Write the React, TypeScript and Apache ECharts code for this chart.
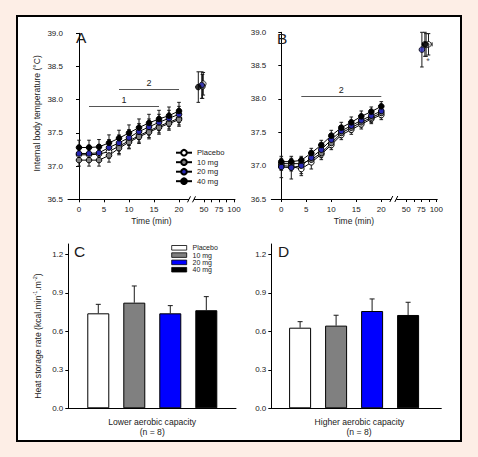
import React, { useEffect, useRef } from "react";
import * as echarts from "echarts";

const FONT = '"Liberation Sans", Arial, Helvetica, sans-serif';

const doses = ["Placebo", "10 mg", "20 mg", "40 mg"];
const markerFill = ["#ffffff", "#7f7f7f", "#2828b4", "#000000"];
const barFill = ["#ffffff", "#808080", "#0000ff", "#000000"];

const minutes = [0, 2, 4, 6, 8, 10, 12, 14, 16, 18, 20];
const timeTicks = [0, 5, 10, 15, 20, 50, 75, 100];
const timeMinorTicks = [62.5, 87.5];
const tempTicks = [36.5, 37.0, 37.5, 38.0, 38.5, 39.0];

// Panel A: lower aerobic capacity, internal temperature (°C)
const aPlacebo = [37.17, 37.17, 37.18, 37.22, 37.3, 37.38, 37.46, 37.53, 37.6, 37.66, 37.72];
const a10mg = [37.09, 37.09, 37.09, 37.16, 37.27, 37.36, 37.44, 37.51, 37.58, 37.64, 37.7];
const a20mg = [37.19, 37.19, 37.2, 37.28, 37.35, 37.43, 37.52, 37.59, 37.66, 37.72, 37.78];
const a40mg = [37.28, 37.28, 37.29, 37.35, 37.42, 37.5, 37.58, 37.65, 37.71, 37.76, 37.83];
const aPlaceboSD = [0.1, 0.1, 0.1, 0.1, 0.11, 0.11, 0.1, 0.1, 0.1, 0.1, 0.1];
const a10mgSD = [0.09, 0.09, 0.09, 0.1, 0.1, 0.1, 0.1, 0.1, 0.1, 0.1, 0.1];
const a20mgSD = [0.12, 0.12, 0.12, 0.12, 0.12, 0.12, 0.12, 0.12, 0.12, 0.12, 0.12];
const a40mgSD = [0.11, 0.11, 0.11, 0.12, 0.12, 0.12, 0.13, 0.13, 0.13, 0.13, 0.13];
const aEndTime = [48.8, 47.5, 46.2, 40.5];
const aEndTemp = [38.24, 38.2, 38.22, 38.19];
const aEndSD = [0.17, 0.18, 0.2, 0.23];
const aEndTimeSD = [2, 0, 0, 0];

// Panel B: higher aerobic capacity
const bPlacebo = [37.0, 36.99, 36.95, 37.05, 37.17, 37.31, 37.46, 37.54, 37.62, 37.7, 37.76];
const b10mg = [37.03, 37.03, 37.03, 37.09, 37.19, 37.34, 37.49, 37.57, 37.65, 37.72, 37.79];
const b20mg = [36.98, 36.97, 37.0, 37.12, 37.24, 37.39, 37.52, 37.6, 37.68, 37.75, 37.82];
const b40mg = [37.06, 37.06, 37.08, 37.19, 37.31, 37.45, 37.57, 37.65, 37.74, 37.81, 37.89];
const bPlaceboSD = [0.07, 0.07, 0.1, 0.1, 0.08, 0.07, 0.07, 0.07, 0.07, 0.07, 0.07];
const b10mgSD = [0.06, 0.06, 0.06, 0.07, 0.07, 0.07, 0.07, 0.07, 0.07, 0.07, 0.07];
const b20mgSD = [0.16, 0.17, 0.12, 0.09, 0.08, 0.08, 0.08, 0.08, 0.08, 0.08, 0.08];
const b40mgSD = [0.05, 0.05, 0.06, 0.07, 0.07, 0.08, 0.08, 0.08, 0.08, 0.07, 0.07];
const bEndTime = [87, 83, 76, 81];
const bEndTemp = [38.82, 38.81, 38.74, 38.82];
const bEndSD = [0.16, 0.17, 0.26, 0.18];
const bEndTimeSD = [6, 3, 0, 4];
const bStars = [
  [83, 39.05],
  [86, 38.57],
];

const aSig = [
  { label: "1", from: 2, to: 16, level: 37.9 },
  { label: "2", from: 8, to: 20, level: 38.16 },
];
const bSig = [{ label: "2", from: 4, to: 20, level: 38.04 }];

// Panels C & D: heat storage rate
const heatTicks = [0, 0.3, 0.6, 0.9, 1.2];
const cHeat = [0.74, 0.823, 0.74, 0.764];
const cHeatSD = [0.07, 0.13, 0.06, 0.106];
const dHeat = [0.628, 0.644, 0.758, 0.727];
const dHeatSD = [0.047, 0.081, 0.094, 0.099];

// time axis with a break between 20 and 50 min
const toAxis = (t: number) => (t <= 20 ? t : 25 + (t - 50) * 0.12);
const fromAxis = (v: number) => (v <= 20 ? Math.round(v) : Math.round(50 + (v - 25) / 0.12));
const BREAK_POS = 22.5;

const errRender = (capW: number, upOnly: boolean) => (params: any, api: any) => {
  const x = api.value(0);
  const lo = api.value(1);
  const hi = api.value(2);
  const a = api.coord([x, lo]);
  const b = api.coord([x, hi]);
  const st = { stroke: "#1a1a1a", lineWidth: 1 };
  const children: any[] = [
    { type: "line", shape: { x1: a[0], y1: a[1], x2: b[0], y2: b[1] }, style: st },
    { type: "line", shape: { x1: b[0] - capW, y1: b[1], x2: b[0] + capW, y2: b[1] }, style: st },
  ];
  if (!upOnly) {
    children.push({ type: "line", shape: { x1: a[0] - capW, y1: a[1], x2: a[0] + capW, y2: a[1] }, style: st });
  }
  return { type: "group", children };
};

const hErrRender = (params: any, api: any) => {
  const x1 = api.value(0);
  const x2 = api.value(1);
  const y = api.value(2);
  const a = api.coord([x1, y]);
  const b = api.coord([x2, y]);
  const st = { stroke: "#1a1a1a", lineWidth: 1 };
  return {
    type: "group",
    children: [
      { type: "line", shape: { x1: a[0], y1: a[1], x2: b[0], y2: b[1] }, style: st },
      { type: "line", shape: { x1: a[0], y1: a[1] - 2, x2: a[0], y2: a[1] + 2 }, style: st },
      { type: "line", shape: { x1: b[0], y1: b[1] - 2, x2: b[0], y2: b[1] + 2 }, style: st },
    ],
  };
};

const breakRender = (params: any, api: any) => {
  const p = api.coord([api.value(0), api.value(1)]);
  const st = { stroke: "#000", lineWidth: 1 };
  return {
    type: "group",
    children: [
      { type: "rect", shape: { x: p[0] - 2.5, y: p[1] - 1.5, width: 5, height: 3 }, style: { fill: "#fff" } },
      { type: "line", shape: { x1: p[0] - 4, y1: p[1] + 3, x2: p[0] - 1, y2: p[1] - 3 }, style: st },
      { type: "line", shape: { x1: p[0] + 1, y1: p[1] + 3, x2: p[0] + 4, y2: p[1] - 3 }, style: st },
    ],
  };
};

const axisLineStyle = { lineStyle: { color: "#000", width: 1 } };
const labelStyle = { fontSize: 8, color: "#222", fontFamily: FONT };
const SYMBOL = 5.6;

function tempPanelSeries(
  gi: number,
  means: number[][],
  sds: number[][],
  endT: number[],
  endV: number[],
  endSD: number[],
  endTSD: number[],
  sig: { label: string; from: number; to: number; level: number }[],
  suffix: string
) {
  const out: any[] = [];
  doses.forEach((d, i) => {
    const m = means[i];
    const s = sds[i];
    const errData = minutes.map((t, k) => [t, m[k] - s[k], m[k] + s[k]]);
    errData.push([toAxis(endT[i]), endV[i] - endSD[i], endV[i] + endSD[i]]);
    out.push({
      type: "custom",
      name: d + " SD" + suffix,
      xAxisIndex: gi,
      yAxisIndex: gi,
      renderItem: errRender(1.8, false),
      encode: { x: 0, y: [1, 2] },
      data: errData,
      clip: false,
      silent: true,
    });
    if (endTSD[i] > 0) {
      out.push({
        type: "custom",
        name: d + " time SD" + suffix,
        xAxisIndex: gi,
        yAxisIndex: gi,
        renderItem: hErrRender,
        encode: { x: [0, 1], y: 2 },
        data: [[toAxis(endT[i] - endTSD[i]), toAxis(endT[i] + endTSD[i]), endV[i]]],
        clip: false,
        silent: true,
      });
    }
    const style = { color: markerFill[i], borderColor: "#000", borderWidth: 1 };
    const line: any = {
      type: "line",
      name: suffix ? d + suffix : d,
      xAxisIndex: gi,
      yAxisIndex: gi,
      data: minutes.map((t, k) => [t, m[k]]),
      symbol: "circle",
      symbolSize: SYMBOL,
      itemStyle: style,
      lineStyle: { color: "#000", width: 1 },
    };
    if (i === 0) {
      line.markLine = {
        silent: true,
        symbol: ["none", "none"],
        lineStyle: { color: "#555", width: 1, type: "solid" },
        label: {
          show: true,
          position: "insideMiddleTop",
          distance: 2,
          formatter: "{b}",
          fontSize: 9,
          color: "#222",
          fontFamily: FONT,
        },
        data: sig.map((g) => [
          { name: g.label, coord: [g.from, g.level] },
          { coord: [g.to, g.level] },
        ]),
      };
    }
    out.push(line);
    out.push({
      type: "scatter",
      name: d + " end" + suffix,
      xAxisIndex: gi,
      yAxisIndex: gi,
      data: [[toAxis(endT[i]), endV[i]]],
      symbol: "circle",
      symbolSize: SYMBOL,
      itemStyle: style,
    });
  });
  out.push({
    type: "custom",
    name: "break" + gi,
    xAxisIndex: gi,
    yAxisIndex: gi,
    renderItem: breakRender,
    data: [[BREAK_POS, 36.5]],
    clip: false,
    silent: true,
    z: 5,
  });
  return out;
}

function barPanelSeries(gi: number, vals: number[], sds: number[]) {
  return [
    {
      type: "bar",
      name: "heat" + gi,
      xAxisIndex: gi,
      yAxisIndex: gi,
      barWidth: 22,
      data: vals.map((v, i) => ({
        value: [i + 1, v],
        itemStyle: { color: barFill[i], borderColor: "#000", borderWidth: 1 },
      })),
    },
    {
      type: "custom",
      name: "heatSD" + gi,
      xAxisIndex: gi,
      yAxisIndex: gi,
      renderItem: errRender(2.5, true),
      encode: { x: 0, y: [1, 2] },
      data: vals.map((v, i) => [i + 1, v, v + sds[i]]),
      silent: true,
      z: 1,
    },
  ];
}

function timeXAxis(gi: number, min: number) {
  return {
    type: "value",
    gridIndex: gi,
    min,
    max: 31.2,
    axisLine: axisLineStyle,
    axisTick: {
      show: true,
      length: 3,
      lineStyle: { color: "#000" },
      customValues: [...timeTicks, ...timeMinorTicks].map(toAxis),
    },
    axisLabel: {
      ...labelStyle,
      margin: 6,
      customValues: timeTicks.map(toAxis),
      formatter: (v: number) => String(fromAxis(v)),
    },
    splitLine: { show: false },
  };
}

function tempYAxis(gi: number, labels: boolean) {
  return {
    type: "value",
    gridIndex: gi,
    min: tempTicks[0],
    max: tempTicks[tempTicks.length - 1],
    interval: 0.5,
    axisLine: { show: true, ...axisLineStyle },
    axisTick: { show: true, length: 3, lineStyle: { color: "#000" } },
    axisLabel: { ...labelStyle, show: labels, margin: 5, formatter: (v: number) => v.toFixed(1) },
    splitLine: { show: false },
  };
}

function heatYAxis(gi: number) {
  return {
    type: "value",
    gridIndex: gi,
    min: heatTicks[0],
    max: 1.28,
    interval: 0.3,
    axisLine: { show: true, ...axisLineStyle },
    axisTick: {
      show: true,
      length: 3,
      lineStyle: { color: "#000" },
      customValues: heatTicks,
    },
    axisLabel: {
      ...labelStyle,
      margin: 5,
      customValues: heatTicks,
      formatter: (v: number) => v.toFixed(1),
    },
    splitLine: { show: false },
  };
}

function barXAxis(gi: number, min: number, max: number) {
  return {
    type: "value",
    gridIndex: gi,
    min,
    max,
    axisLine: axisLineStyle,
    axisTick: { show: false },
    axisLabel: { show: false },
    splitLine: { show: false },
  };
}

export default function App() {
  const ref = useRef<HTMLDivElement>(null);

  useEffect(() => {
    document.body.style.margin = "0";
    const chart = echarts.init(ref.current!, null, { renderer: "svg" });

    const series: any[] = [
      ...tempPanelSeries(
        0,
        [aPlacebo, a10mg, a20mg, a40mg],
        [aPlaceboSD, a10mgSD, a20mgSD, a40mgSD],
        aEndTime,
        aEndTemp,
        aEndSD,
        aEndTimeSD,
        aSig,
        ""
      ),
      ...tempPanelSeries(
        1,
        [bPlacebo, b10mg, b20mg, b40mg],
        [bPlaceboSD, b10mgSD, b20mgSD, b40mgSD],
        bEndTime,
        bEndTemp,
        bEndSD,
        bEndTimeSD,
        bSig,
        " (B)"
      ),
      {
        type: "scatter",
        name: "stars",
        xAxisIndex: 1,
        yAxisIndex: 1,
        symbolSize: 0,
        data: bStars.map((p) => [toAxis(p[0]), p[1]]),
        label: {
          show: true,
          position: "inside",
          formatter: "*",
          fontSize: 9,
          color: "#222",
          fontFamily: FONT,
        },
        silent: true,
        z: 6,
      },
      ...barPanelSeries(2, cHeat, cHeatSD),
      ...barPanelSeries(3, dHeat, dHeatSD),
    ];

    const txt = (text: string, x: number, y: number, size: number, extra: any = {}) => ({
      type: "text",
      x,
      y,
      style: {
        text,
        fontSize: size,
        fontFamily: FONT,
        fill: "#1a1a1a",
        align: "center",
        verticalAlign: "middle",
        ...extra,
      },
      z: 10,
    });

    const legendC: any[] = [];
    const rowsC = [247.8, 255.1, 262.4, 269.7];
    doses.forEach((d, i) => {
      legendC.push({
        type: "rect",
        shape: { x: 171.7, y: rowsC[i] - 2.3, width: 15, height: 4.6 },
        style: { fill: barFill[i], stroke: "#000", lineWidth: 0.8 },
        z: 10,
      });
      legendC.push(txt(d, 192.5, rowsC[i], 7, { align: "left", lineHeight: 7 }));
    });

    chart.setOption({
      animation: false,
      backgroundColor: "#fdeee6",
      textStyle: { fontFamily: FONT },
      grid: [
        { left: 68, top: 33.3, width: 167, height: 166, outerBoundsMode: "none", containLabel: false },
        { left: 271.3, top: 32.3, width: 166, height: 166.7, outerBoundsMode: "none", containLabel: false },
        { left: 68.3, top: 244, width: 167.7, height: 164.3, outerBoundsMode: "none", containLabel: false },
        { left: 271.3, top: 244, width: 170, height: 164.3, outerBoundsMode: "none", containLabel: false },
      ],
      xAxis: [timeXAxis(0, -2.2), timeXAxis(1, -2), barXAxis(2, 0.167, 4.825), barXAxis(3, 0.2, 4.922)],
      yAxis: [tempYAxis(0, true), tempYAxis(1, true), heatYAxis(2), heatYAxis(3)],
      legend: [
        {
          data: doses,
          left: 175,
          top: 148.7,
          padding: 0,
          orient: "vertical",
          itemWidth: 16,
          itemHeight: 7,
          itemGap: 1.5,
          selectedMode: false,
          textStyle: { fontSize: 7.6, color: "#1a1a1a", fontFamily: FONT },
        },
      ],
      graphic: [
        {
          type: "rect",
          shape: { x: 17, y: 16, width: 444, height: 425 },
          style: { fill: "#ffffff", stroke: "#000", lineWidth: 2 },
          z: -10,
          silent: true,
        },
        txt("A", 76, 37.5, 15.5, { align: "left" }),
        txt("B", 277, 38, 15.5, { align: "left" }),
        txt("C", 74, 251.2, 15.5, { align: "left" }),
        txt("D", 278, 251.2, 15.5, { align: "left" }),
        { ...txt("Internal body temperature (°C)", 37.3, 113.3, 8.6), rotation: Math.PI / 2 },
        {
          type: "text",
          x: 37.3,
          y: 336,
          rotation: Math.PI / 2,
          z: 10,
          style: {
            text: "{a|Heat storage rate (kcal.min}{s|-1}{a|.m}{s|-2}{a|)}",
            align: "center",
            verticalAlign: "middle",
            fill: "#1a1a1a",
            rich: {
              a: { fontSize: 8.6, fontFamily: FONT, fill: "#1a1a1a", lineHeight: 11, verticalAlign: "bottom" },
              s: { fontSize: 5.5, fontFamily: FONT, fill: "#1a1a1a", lineHeight: 11, verticalAlign: "top" },
            },
          },
        },
        txt("Time (min)", 151.5, 221, 8.5),
        txt("Time (min)", 354, 221, 8.5),
        txt("Lower aerobic capacity", 152.2, 421.7, 8.6),
        txt("(n = 8)", 152.2, 431.7, 8.6),
        txt("Higher aerobic capacity", 359.5, 421.7, 8.6),
        txt("(n = 8)", 359, 431.7, 8.6),
        ...legendC,
      ],
      series,
    });

    return () => chart.dispose();
  }, []);

  return (
    <div
      ref={ref}
      style={{ position: "fixed", left: 0, top: 0, width: 478, height: 457 }}
    />
  );
}
